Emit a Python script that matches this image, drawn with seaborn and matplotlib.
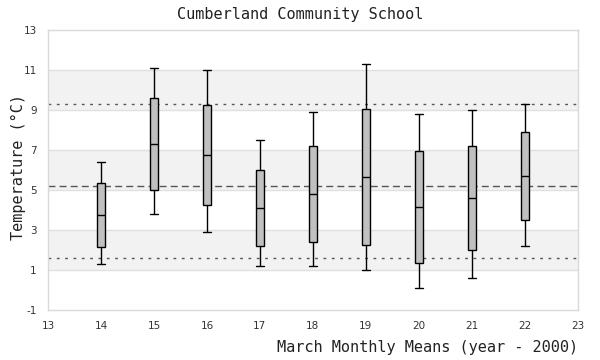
import numpy as np
import pandas as pd
import seaborn as sns
import matplotlib
matplotlib.use("Agg")
import matplotlib.pyplot as plt

# Five-number summaries (min, q1, median, q3, max)
years = [14, 15, 16, 17, 18, 19, 20, 21, 22]
mins = [1.3, 3.8, 2.9, 1.2, 1.2, 1.0, 0.1, 0.6, 2.2]
q1s = [2.15, 5.0, 4.25, 2.2, 2.4, 2.25, 1.35, 2.0, 3.5]
medians = [3.75, 7.3, 6.75, 4.1, 4.8, 5.65, 4.15, 4.6, 5.7]
q3s = [5.35, 9.6, 9.25, 6.0, 7.2, 9.05, 6.95, 7.2, 7.9]
maxs = [6.4, 11.1, 11.0, 7.5, 8.9, 11.3, 8.8, 9.0, 9.3]

mean_line = 5.2
upper_line = 9.3
lower_line = 1.6

title = "Cumberland Community School"
xlabel = "March Monthly Means (year - 2000)"
ylabel = "Temperature (°C)"
xticks = list(range(13, 24))
yticks = list(range(-1, 14, 2))

rows = []
for y, a, b, c, d, e in zip(years, mins, q1s, medians, q3s, maxs):
    for v in (a, b, c, d, e):
        rows.append({"year": y, "temp": v})
df = pd.DataFrame(rows)

sns.set_style("white")
mono = ["DejaVu Sans Mono"]

fig = plt.figure(figsize=(6, 3.6), dpi=100)
ax = fig.add_axes([0.08, 0.139, 0.883, 0.778])

# alternating bands
for lo in (1, 5, 9):
    ax.axhspan(lo, lo + 2, color="#f2f2f2", zorder=0, lw=0)
for yv in range(1, 13, 2):
    ax.axhline(yv, color="#e0e0e0", lw=1, zorder=0.5)

ax.axhline(upper_line, color="#555555", lw=1, ls=(0, (2, 4)), zorder=1)
ax.axhline(lower_line, color="#555555", lw=1, ls=(0, (2, 4)), zorder=1)
ax.axhline(mean_line, color="#555555", lw=1, ls=(0, (5, 3)), zorder=1)

sns.boxplot(data=df, x="year", y="temp", native_scale=True, width=0.15,
            whis=(0, 100), color="#c0c0c0", saturation=1, linecolor="black",
            linewidth=1.0, showfliers=False, ax=ax, zorder=3, capwidths=0.15)

ax.set_xlim(13, 23)
ax.set_ylim(-1, 13)
ax.set_xticks(xticks)
ax.set_xticklabels([str(t) for t in xticks])
ax.set_yticks(yticks)
ax.set_yticklabels([str(t) for t in yticks])
ax.tick_params(length=0, labelsize=7.5, labelcolor="#333333", pad=8)

for s in ax.spines.values():
    s.set_color("#d9d9d9")
    s.set_linewidth(1)

ax.set_xlabel("")
ax.set_ylabel("")
fig.text(18 / 600, 1 - 167 / 360, ylabel, family=mono, fontsize=11,
         color="#222222", ha="center", va="center", rotation=90)
fig.text(0.5, 0.96, title, family=mono, fontsize=11, color="#222222",
         ha="center", va="center")
fig.text(0.963, 0.035, xlabel, family=mono, fontsize=11, color="#222222",
         ha="right", va="center")

fig.savefig("out.png", dpi=100)
